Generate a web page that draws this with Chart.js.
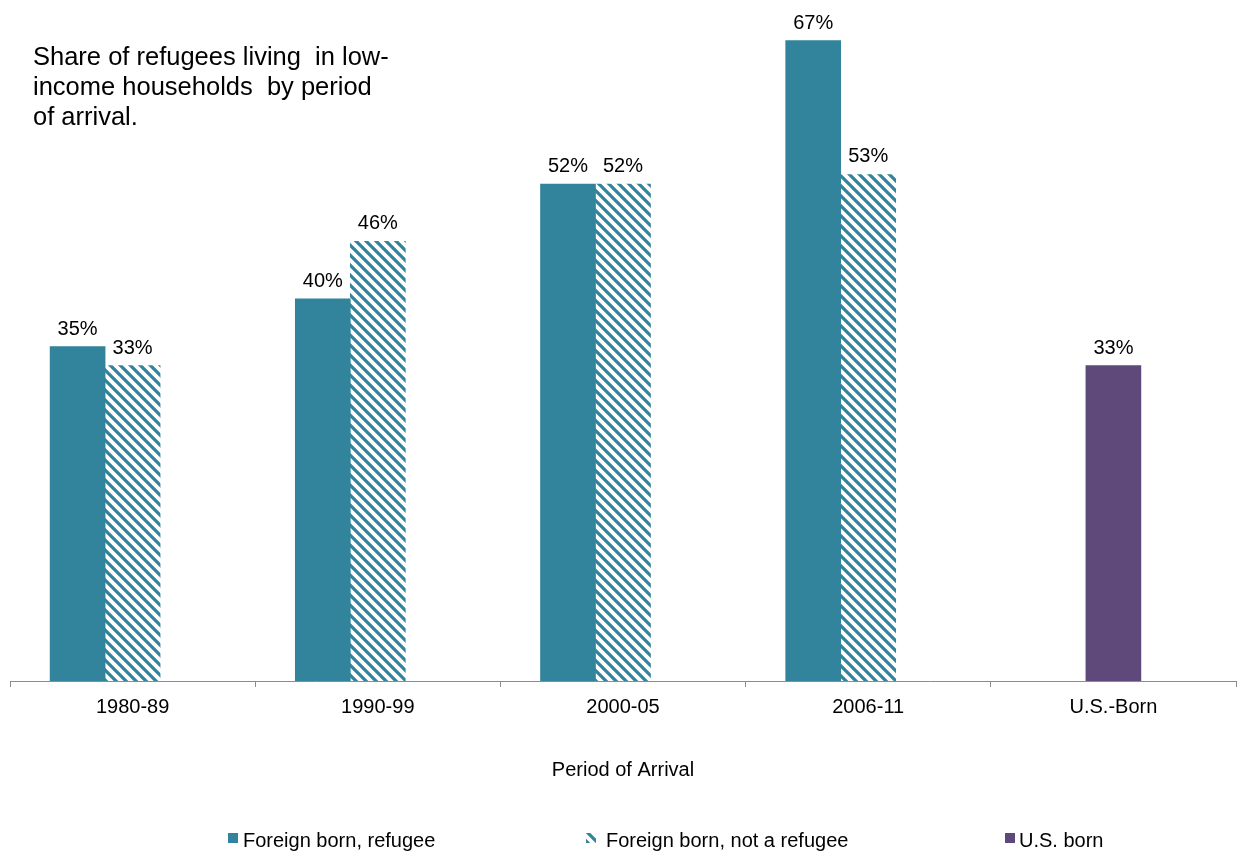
<!DOCTYPE html>
<html>
<head>
<meta charset="utf-8">
<script src="https://cdn.jsdelivr.net/npm/chart.js@4.4.0/dist/chart.umd.min.js"></script>
<style>
  html, body { margin: 0; padding: 0; background: #fff; }
  #wrap { position: relative; width: 1238px; height: 853px; }
  #title {
    position: absolute; left: 33px; top: 41px;
    font: 25.5px "Liberation Sans", Arial, sans-serif;
    line-height: 30px; color: #000; white-space: pre;
  }
</style>
</head>
<body>
<div id="wrap">
  <canvas id="chart" width="1238" height="853"></canvas>
  <div id="title">Share of refugees living  in low-
income households  by period
of arrival.</div>
</div>
<script>
const periods = ['1980-89', '1990-99', '2000-05', '2006-11', 'U.S.-Born'];
const refugee = [35, 40, 52, 67, null];
const notRefugee = [33, 46, 52, 53, null];
const usBorn = [null, null, null, null, 33];
// empty third slot next to each foreign-born pair
const spacer = [0, 0, 0, 0, null];

const TEAL = '#31849b';
const PURPLE = '#5f497a';
const FONT = '"Liberation Sans", Arial, sans-serif';

function makeHatch(color) {
  const c = document.createElement('canvas');
  c.width = 10; c.height = 10;
  const g = c.getContext('2d');
  g.fillStyle = color;
  g.fillRect(0, 0, 10, 10);
  g.strokeStyle = '#fff';
  g.lineWidth = 3.8;
  g.beginPath();
  g.moveTo(-5, -5); g.lineTo(15, 15);
  g.moveTo(-5, 5); g.lineTo(5, 15);
  g.moveTo(5, -5); g.lineTo(15, 5);
  g.stroke();
  return g.createPattern(c, 'repeat');
}

// percentage above each bar
const valueLabels = {
  id: 'valueLabels',
  afterDatasetsDraw(chart) {
    const ctx = chart.ctx;
    ctx.save();
    ctx.font = '20px ' + FONT;
    ctx.fillStyle = '#000';
    ctx.textAlign = 'center';
    ctx.textBaseline = 'alphabetic';
    chart.data.datasets.forEach((ds, i) => {
      if (ds.spacer) return;
      chart.getDatasetMeta(i).data.forEach((bar, j) => {
        const v = ds.data[j];
        if (v == null) return;
        ctx.fillText(v + '%', bar.x, bar.y - 12);
      });
    });
    ctx.restore();
  }
};

// legend row along the bottom
const legendBoxX = [228, 586, 1005];
const legendTextX = [243, 606, 1019];
const bottomLegend = {
  id: 'bottomLegend',
  afterDraw(chart) {
    const ctx = chart.ctx;
    ctx.save();
    ctx.font = '20px ' + FONT;
    ctx.textBaseline = 'alphabetic';
    let k = 0;
    chart.data.datasets.forEach(ds => {
      if (ds.spacer) return;
      ctx.fillStyle = ds.backgroundColor;
      ctx.fillRect(legendBoxX[k], 833, 10, 10);
      ctx.fillStyle = '#000';
      ctx.fillText(ds.label, legendTextX[k], 847);
      k++;
    });
    ctx.restore();
  }
};

const ctx = document.getElementById('chart').getContext('2d');
new Chart(ctx, {
  type: 'bar',
  data: {
    labels: periods,
    datasets: [
      { label: 'Foreign born, refugee', data: refugee, backgroundColor: TEAL },
      { label: 'Foreign born, not a refugee', data: notRefugee, backgroundColor: makeHatch(TEAL) },
      { label: 'U.S. born', data: usBorn, backgroundColor: PURPLE },
      { label: '', data: spacer, backgroundColor: 'rgba(0,0,0,0)', spacer: true }
    ]
  },
  options: {
    responsive: false,
    animation: false,
    skipNull: true,
    barThickness: 55,
    layout: { padding: { left: 10, right: 2, top: 12, bottom: 71 } },
    plugins: {
      legend: { display: false },
      tooltip: { enabled: false }
    },
    scales: {
      x: {
        grid: { drawOnChartArea: false, drawTicks: true, tickLength: 6, color: '#8c8c8c', offset: true },
        border: { color: '#8c8c8c', width: 1 },
        ticks: { color: '#000', font: { family: FONT, size: 20 }, padding: 8 },
        title: {
          display: true,
          text: 'Period of Arrival',
          color: '#000',
          font: { family: FONT, size: 20 },
          padding: { top: 31, bottom: 0 }
        }
      },
      y: {
        display: false,
        min: 0,
        max: 70
      }
    }
  },
  plugins: [valueLabels, bottomLegend]
});
</script>
</body>
</html>
